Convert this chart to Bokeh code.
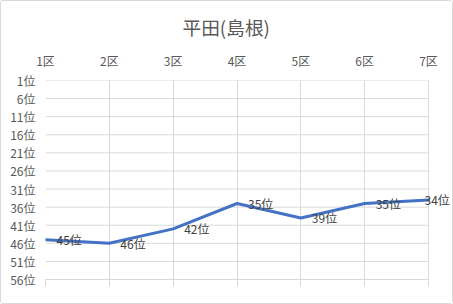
from bokeh.plotting import figure
from bokeh.models import Range1d, FixedTicker, LinearAxis, ColumnDataSource, Label
from bokeh.embed import file_html
from bokeh.resources import INLINE

title = "平田(島根)"
categories = ["1区", "2区", "3区", "4区", "5区", "6区", "7区"]
ranks = [45, 46, 42, 35, 39, 35, 34]
rank_ticks = [1, 6, 11, 16, 21, 26, 31, 36, 41, 46, 51, 56]

FONT = "Noto Sans CJK JP"
GRID = "#d9d9d9"
TXT = "#595959"

n = len(categories)
xs = list(range(1, n + 1))
labels = [f"{r}位" for r in ranks]
dx = [11] * (n - 1) + [-4]

# pixel layout: data spans 44..427, frame extended to 450 so end label is not clipped
LEFT, DATA_RIGHT, FRAME_RIGHT = 44, 427, 450
x_end = n + (n - 1) * (FRAME_RIGHT - DATA_RIGHT) / (DATA_RIGHT - LEFT)

p = figure(width=453, height=304, output_backend="svg", toolbar_location=None,
           x_range=Range1d(1, x_end), y_range=Range1d(rank_ticks[-1], rank_ticks[0]),
           x_axis_location="above",
           min_border_left=LEFT, min_border_right=453 - FRAME_RIGHT, min_border_top=79, min_border_bottom=26)
p.outline_line_color = None
p.background_fill_color = "white"
p.border_fill_color = "white"
p.styles = {"border": "1px solid #d9d9d9", "border-radius": "3px", "box-sizing": "border-box"}

p.title.text = title
p.title.align = "left"
p.title.offset = 137
p.title.standoff = 18
p.title.text_font = FONT
p.title.text_font_size = "18.7px"
p.title.text_font_style = "normal"
p.title.text_color = TXT

# top category axis
xa = p.xaxis[0]
xa.ticker = FixedTicker(ticks=xs)
xa.major_label_overrides = {i: c for i, c in zip(xs, categories)}
xa.axis_line_color = None
xa.major_tick_out = 0
xa.major_tick_in = 0
xa.minor_tick_line_color = None
xa.major_label_standoff = 12
xa.major_label_text_font = FONT
xa.major_label_text_font_size = "12px"
xa.major_label_text_color = TXT

# bottom axis tick marks
bx = LinearAxis(ticker=FixedTicker(ticks=xs), bounds=(1, n),
                major_label_overrides={i: "" for i in xs},
                axis_line_color=GRID, major_tick_line_color=GRID,
                major_tick_out=7, major_tick_in=0, minor_tick_line_color=None)
p.add_layout(bx, "below")

ya = p.yaxis[0]
ya.ticker = FixedTicker(ticks=rank_ticks)
ya.major_label_overrides = {t: f"{t}位" for t in rank_ticks}
ya.axis_line_color = None
ya.major_tick_out = 0
ya.major_tick_in = 0
ya.minor_tick_line_color = None
ya.major_label_standoff = 10
ya.major_label_text_font = FONT
ya.major_label_text_font_size = "12px"
ya.major_label_text_color = TXT

p.xgrid.ticker = FixedTicker(ticks=xs)
p.xgrid.grid_line_color = GRID
p.ygrid.grid_line_color = None
p.segment(x0=[1] * len(rank_ticks), x1=[n] * len(rank_ticks), y0=rank_ticks, y1=rank_ticks,
          line_color=GRID, line_width=1, level="underlay")

src = ColumnDataSource(dict(x=xs, y=ranks))
p.line("x", "y", source=src, line_color="#4472C4", line_width=3, line_join="round", line_cap="round")
for xv, yv, t, o in zip(xs, ranks, labels, dx):
    p.add_layout(Label(x=xv, y=yv, text=t, x_offset=o, text_font=FONT, text_font_size="12px",
                       text_color="#404040", text_align="left", text_baseline="middle"))

open("out.html", "w").write(file_html(p, INLINE))
